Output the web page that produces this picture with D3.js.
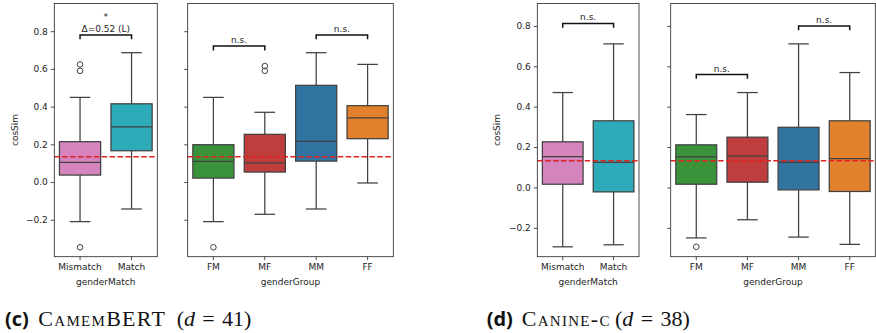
<!DOCTYPE html>
<html>
<head>
<meta charset="utf-8">
<script src="https://cdn.jsdelivr.net/npm/d3@7"></script>
<style>
  body { margin: 0; background: #fff; }
  svg { display: block; }
</style>
</head>
<body>
<div id="chart"></div>
<script>
// Categories
const matchCats = ["Mismatch", "Match"];
const groupCats = ["FM", "MF", "MM", "FF"];
const yTicks = [-0.2, 0, 0.2, 0.4, 0.6, 0.8];

// Box summaries: [low whisker, q1, median, q3, high whisker]
const camemMatchBoxes = [[-0.21, 0.037, 0.104, 0.214, 0.449], [-0.143, 0.166, 0.293, 0.415, 0.686]];
const camemMatchOutliers = [[0.624, 0.59, -0.346], []];
const camemGroupBoxes = [
  [-0.21, 0.021, 0.11, 0.198, 0.449],
  [-0.171, 0.053, 0.101, 0.253, 0.37],
  [-0.143, 0.111, 0.216, 0.513, 0.686],
  [-0.005, 0.23, 0.341, 0.405, 0.624]
];
const camemGroupOutliers = [[-0.346], [0.615, 0.59], [], []];
const camemBaseline = 0.134;

const canineMatchBoxes = [[-0.294, 0.016, 0.153, 0.226, 0.47], [-0.284, -0.022, 0.124, 0.33, 0.711]];
const canineMatchOutliers = [[], []];
const canineGroupBoxes = [
  [-0.25, 0.016, 0.151, 0.211, 0.361],
  [-0.16, 0.026, 0.155, 0.249, 0.47],
  [-0.246, -0.012, 0.124, 0.298, 0.711],
  [-0.282, -0.02, 0.143, 0.33, 0.569]
];
const canineGroupOutliers = [[-0.294], [], [], []];
const canineBaseline = 0.132;

// Significance brackets: [from, to, y, label, extra]
const camemMatchBrackets = [["Mismatch", "Match", 0.78, "Δ=0.52 (L)", "*"]];
const camemGroupBrackets = [["FM", "MF", 0.721, "n.s."], ["MM", "FF", 0.78, "n.s."]];
const canineMatchBrackets = [["Mismatch", "Match", 0.812, "n.s."]];
const canineGroupBrackets = [["FM", "MF", 0.559, "n.s."], ["MM", "FF", 0.8, "n.s."]];

const matchColors = ["#d584bd", "#2eabb8"];
const groupColors = ["#3a923a", "#c03d3e", "#3274a1", "#e1812c"];

const width = 876, height = 333;
const lineColor = "#404040";
const axisFont = "DejaVu Sans";

const svg = d3.select("#chart").append("svg")
  .attr("width", width)
  .attr("height", height);

function drawPanel(opt) {
  const top = 3.5, bottom = 256.7;
  const g = svg.append("g");

  const x = d3.scaleBand().domain(opt.cats).range([opt.left, opt.right]);
  const y = d3.scaleLinear().domain(opt.yDomain).range([bottom, top]);
  const cx = c => x(c) + x.bandwidth() / 2;
  const bw = x.bandwidth() * 0.8;
  const capW = bw * 0.5;

  const data = opt.cats.map((c, i) => ({
    cat: c, s: opt.boxes[i], out: opt.outliers[i], color: opt.colors[i]
  }));

  // Whiskers
  const wg = g.selectAll(".whisk").data(data).enter().append("g")
    .attr("stroke", lineColor).attr("stroke-width", 1.25).attr("fill", "none");
  wg.append("line")
    .attr("x1", d => cx(d.cat)).attr("x2", d => cx(d.cat))
    .attr("y1", d => y(d.s[3])).attr("y2", d => y(d.s[4]));
  wg.append("line")
    .attr("x1", d => cx(d.cat)).attr("x2", d => cx(d.cat))
    .attr("y1", d => y(d.s[1])).attr("y2", d => y(d.s[0]));
  wg.append("line")
    .attr("x1", d => cx(d.cat) - capW / 2).attr("x2", d => cx(d.cat) + capW / 2)
    .attr("y1", d => y(d.s[4])).attr("y2", d => y(d.s[4]));
  wg.append("line")
    .attr("x1", d => cx(d.cat) - capW / 2).attr("x2", d => cx(d.cat) + capW / 2)
    .attr("y1", d => y(d.s[0])).attr("y2", d => y(d.s[0]));

  // Boxes
  g.selectAll(".box").data(data).enter().append("rect")
    .attr("x", d => cx(d.cat) - bw / 2)
    .attr("width", bw)
    .attr("y", d => y(d.s[3]))
    .attr("height", d => y(d.s[1]) - y(d.s[3]))
    .attr("fill", d => d.color)
    .attr("stroke", lineColor)
    .attr("stroke-width", 1.25);

  // Medians
  g.selectAll(".med").data(data).enter().append("line")
    .attr("x1", d => cx(d.cat) - bw / 2).attr("x2", d => cx(d.cat) + bw / 2)
    .attr("y1", d => y(d.s[2])).attr("y2", d => y(d.s[2]))
    .attr("stroke", lineColor).attr("stroke-width", 1.25);

  // Outliers
  const flat = data.flatMap(d => d.out.map(v => ({ cat: d.cat, v })));
  g.selectAll(".flier").data(flat).enter().append("circle")
    .attr("cx", d => cx(d.cat)).attr("cy", d => y(d.v))
    .attr("r", 2.8)
    .attr("fill", "none")
    .attr("stroke", lineColor).attr("stroke-width", 1);

  // Red dashed baseline
  g.append("line")
    .attr("x1", opt.left).attr("x2", opt.right)
    .attr("y1", y(opt.baseline)).attr("y2", y(opt.baseline))
    .attr("stroke", "#e2221f").attr("stroke-width", 1.5)
    .attr("stroke-dasharray", "5.5,2.4");

  // Brackets
  opt.brackets.forEach(b => {
    const x1 = cx(b[0]), x2 = cx(b[1]), yb = y(b[2]);
    g.append("path")
      .attr("d", `M${x1},${yb + 4.3}V${yb}H${x2}V${yb + 4.3}`)
      .attr("fill", "none").attr("stroke", "#111").attr("stroke-width", 1.5);
    g.append("text")
      .attr("x", (x1 + x2) / 2).attr("y", yb - 3)
      .attr("text-anchor", "middle")
      .style("font-family", axisFont).style("font-size", "9px")
      .style("fill", "#222")
      .text(b[3]);
    if (b[4]) {
      g.append("text")
        .attr("x", (x1 + x2) / 2).attr("y", yb - 15)
        .attr("text-anchor", "middle")
        .style("font-family", axisFont).style("font-size", "9px")
        .style("fill", "#222")
        .text(b[4]);
    }
  });

  // Y axis
  const yAxis = g.append("g")
    .attr("transform", `translate(${opt.left},0)`)
    .call(d3.axisLeft(y).tickValues(yTicks).tickSize(3.5).tickPadding(3)
      .tickFormat(opt.showY ? d3.format(".1f") : ""));
  yAxis.select(".domain").remove();
  yAxis.selectAll("line").attr("stroke", "#222").attr("stroke-width", 0.8);
  yAxis.selectAll("text")
    .style("font-family", axisFont).style("font-size", "9px").style("fill", "#222");

  // X axis
  const xAxis = g.append("g")
    .attr("transform", `translate(0,${bottom})`)
    .call(d3.axisBottom(x).tickSize(3.5).tickPadding(3));
  xAxis.select(".domain").remove();
  xAxis.selectAll("line").attr("stroke", "#222").attr("stroke-width", 0.8);
  xAxis.selectAll("text")
    .style("font-family", axisFont).style("font-size", "9px").style("fill", "#222");

  // Frame
  g.append("rect")
    .attr("x", opt.left).attr("y", top)
    .attr("width", opt.right - opt.left).attr("height", bottom - top)
    .attr("fill", "none").attr("stroke", "#222").attr("stroke-width", 0.8);

  // Axis labels
  g.append("text")
    .attr("x", (opt.left + opt.right) / 2).attr("y", 285)
    .attr("text-anchor", "middle")
    .style("font-family", axisFont).style("font-size", "9px").style("fill", "#222")
    .text(opt.xLabel);
  if (opt.yLabel) {
    g.append("text")
      .attr("transform", `translate(${opt.yLabelX},130) rotate(-90)`)
      .attr("text-anchor", "middle")
      .style("font-family", axisFont).style("font-size", "9px").style("fill", "#222")
      .text(opt.yLabel);
  }
}

const camemDomain = [-0.396, 0.947];
const canineDomain = [-0.343, 0.911];

drawPanel({ left: 54.3, right: 157.3, yDomain: camemDomain, cats: matchCats,
  boxes: camemMatchBoxes, outliers: camemMatchOutliers, colors: matchColors,
  baseline: camemBaseline, brackets: camemMatchBrackets, showY: true,
  xLabel: "genderMatch", yLabel: "cosSim", yLabelX: 18 });
drawPanel({ left: 187.7, right: 393.3, yDomain: camemDomain, cats: groupCats,
  boxes: camemGroupBoxes, outliers: camemGroupOutliers, colors: groupColors,
  baseline: camemBaseline, brackets: camemGroupBrackets, showY: false,
  xLabel: "genderGroup" });
drawPanel({ left: 537.3, right: 639, yDomain: canineDomain, cats: matchCats,
  boxes: canineMatchBoxes, outliers: canineMatchOutliers, colors: matchColors,
  baseline: canineBaseline, brackets: canineMatchBrackets, showY: true,
  xLabel: "genderMatch", yLabel: "cosSim", yLabelX: 500 });
drawPanel({ left: 670.7, right: 875.3, yDomain: canineDomain, cats: groupCats,
  boxes: canineGroupBoxes, outliers: canineGroupOutliers, colors: groupColors,
  baseline: canineBaseline, brackets: canineGroupBrackets, showY: false,
  xLabel: "genderGroup" });

// Captions
function caption(x, tag, name, nameX, math, mathX) {
  const serif = "Liberation Serif";
  svg.append("text").attr("x", x).attr("y", 326)
    .style("font-family", "Open Sans").style("font-weight", "bold").style("font-size", "20px")
    .style("fill", "#111").text(tag);
  svg.append("text").attr("x", nameX).attr("y", 326)
    .style("font-family", serif).style("font-variant", "small-caps").style("font-size", "22px")
    .style("letter-spacing", "1.3px")
    .style("fill", "#111").text(name);
  const t = svg.append("text").attr("x", mathX).attr("y", 326)
    .style("font-family", serif).style("font-size", "22px").style("fill", "#111");
  t.append("tspan").text("(");
  t.append("tspan").style("font-style", "italic").text("d");
  t.append("tspan").text("\u2004=\u2004" + math + ")");
}
caption(5, "(c)", "CamemBERT", 38.3, "41", 176.7);
caption(486.7, "(d)", "Canine-c", 521.7, "38", 615);
</script>
</body>
</html>
